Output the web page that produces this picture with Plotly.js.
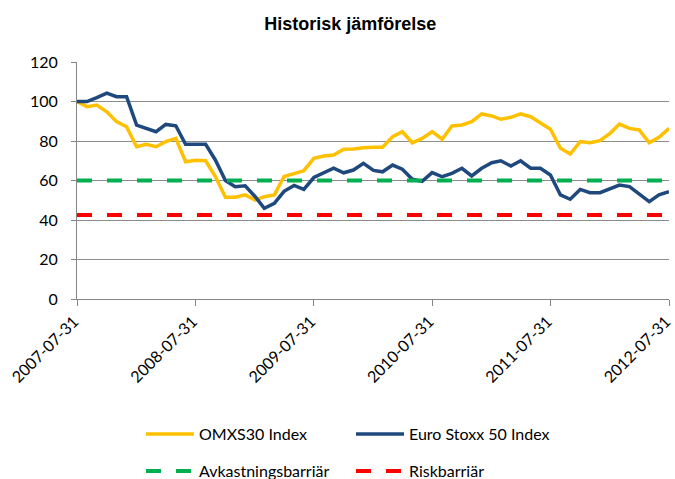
<!DOCTYPE html>
<html>
<head>
<meta charset="utf-8">
<script src="https://cdn.plot.ly/plotly-3.0.1.min.js"></script>
<style>html,body{margin:0;padding:0;background:#fff;}#chart{width:675px;height:479px;}</style>
</head>
<body>
<div id="chart"></div>
<script>
var dates = [
  "2007-07-31","2007-08-31","2007-09-30","2007-10-31","2007-11-30","2007-12-31",
  "2008-01-31","2008-02-29","2008-03-31","2008-04-30","2008-05-31","2008-06-30",
  "2008-07-31","2008-08-31","2008-09-30","2008-10-31","2008-11-30","2008-12-31",
  "2009-01-31","2009-02-28","2009-03-31","2009-04-30","2009-05-31","2009-06-30",
  "2009-07-31","2009-08-31","2009-09-30","2009-10-31","2009-11-30","2009-12-31",
  "2010-01-31","2010-02-28","2010-03-31","2010-04-30","2010-05-31","2010-06-30",
  "2010-07-31","2010-08-31","2010-09-30","2010-10-31","2010-11-30","2010-12-31",
  "2011-01-31","2011-02-28","2011-03-31","2011-04-30","2011-05-31","2011-06-30",
  "2011-07-31","2011-08-31","2011-09-30","2011-10-31","2011-11-30","2011-12-31",
  "2012-01-31","2012-02-29","2012-03-31","2012-04-30","2012-05-31","2012-06-30",
  "2012-07-31"
];
var omxs30 = [
  100, 97.4, 98.2, 94.8, 89.8, 87.2, 77.1, 78.3, 77.1, 79.7, 81.3, 69.5,
  70.2, 70.0, 62.0, 51.5, 51.5, 52.7, 50.1, 51.8, 52.7, 62.0, 63.5, 65.0,
  71.2, 72.4, 72.9, 75.8, 75.9, 76.6, 76.8, 76.8, 82.2, 84.7, 79.1, 81.3,
  84.7, 80.9, 87.6, 88.1, 89.8, 93.7, 92.7, 91.0, 92.0, 93.7, 92.3, 89.0,
  86.0, 76.3, 73.4, 79.7, 79.1, 80.2, 83.9, 88.6, 86.4, 85.6, 79.1, 81.9,
  86.4
];
var eurostoxx = [
  100, 100, 102, 104.2, 102.4, 102.4, 88.0, 86.4, 84.7, 88.4, 87.7, 78.3,
  78.3, 78.3, 70.4, 60.0, 56.9, 57.3, 51.8, 45.9, 48.4, 54.5, 57.5, 55.5,
  61.5, 63.9, 66.2, 63.9, 65.3, 68.7, 65.1, 64.4, 67.8, 65.7, 60.6, 59.6,
  64.0, 61.9, 63.6, 66.2, 62.3, 66.2, 69.0, 70.0, 67.3, 70.0, 66.2, 66.2,
  62.8, 52.7, 50.5, 55.5, 53.8, 53.8, 56.0, 57.7, 56.9, 53.2, 49.3, 52.7,
  54.3
];
var avkastningsbarriar = 60;
var riskbarriar = 42.5;
var seriesNames = ["OMXS30 Index", "Euro Stoxx 50 Index", "Avkastningsbarriär", "Riskbarriär"];
var tickDates = ["2007-07-31","2008-07-31","2009-07-31","2010-07-31","2011-07-31","2012-07-31"];
var titleText = "Historisk jämförelse";

var firstLast = [dates[0], dates[dates.length - 1]];
var traces = [
  {x: dates, y: omxs30, name: seriesNames[0], type: "scatter", mode: "lines",
   line: {color: "#FFC000", width: 3.5}, legend: "legend"},
  {x: dates, y: eurostoxx, name: seriesNames[1], type: "scatter", mode: "lines",
   line: {color: "#1F497D", width: 3.5}, legend: "legend"},
  {x: firstLast, y: [avkastningsbarriar, avkastningsbarriar], name: seriesNames[2], type: "scatter", mode: "lines",
   line: {color: "#00B050", width: 4, dash: "15px,15px"}, legend: "legend2"},
  {x: firstLast, y: [riskbarriar, riskbarriar], name: seriesNames[3], type: "scatter", mode: "lines",
   line: {color: "#FF0000", width: 4, dash: "15px,15px"}, legend: "legend2"}
];

var tickFont = {family: "Lato, 'Open Sans', sans-serif", size: 16, color: "#000"};
var legendCommon = {
  orientation: "h", xref: "container", yref: "container",
  xanchor: "left", yanchor: "middle",
  entrywidth: 147, entrywidthmode: "pixels", itemwidth: 48,
  font: {family: "Lato, 'Open Sans', sans-serif", size: 16, color: "#000"},
  bgcolor: "rgba(0,0,0,0)", borderwidth: 0, traceorder: "normal"
};
var layout = {
  width: 675, height: 479,
  margin: {l: 77, r: 6, t: 62, b: 180, pad: 0},
  paper_bgcolor: "#fff", plot_bgcolor: "#fff",
  showlegend: true,
  title: {text: titleText, x: 0.519, xanchor: "center", xref: "container",
          y: 0.95, yanchor: "middle", yref: "container",
          font: {family: "'Liberation Sans', Arial, sans-serif", size: 18, color: "#000", weight: "bold"}},
  xaxis: {
    type: "date", range: firstLast, tickvals: tickDates, ticktext: tickDates,
    tickangle: -45, showgrid: false, zeroline: false,
    showline: true, linecolor: "#868686", linewidth: 1,
    ticks: "outside", ticklen: 6, tickcolor: "#868686", tickwidth: 1,
    ticklabeloverflow: "allow", ticklabelshift: -3,
    tickfont: tickFont, fixedrange: true
  },
  yaxis: {
    range: [0, 120], dtick: 20, tick0: 0,
    showgrid: true, gridcolor: "#8c8c8c", gridwidth: 1, zeroline: false,
    showline: true, linecolor: "#868686", linewidth: 1,
    ticks: "outside", ticklen: 5, tickcolor: "#868686", tickwidth: 1,
    ticklabelstandoff: 10,
    tickfont: {family: "Lato, 'Open Sans', sans-serif", size: 16, color: "#000"}, fixedrange: true
  },
  legend: Object.assign({}, legendCommon, {x: 141 / 675, y: 1 - 434 / 479}),
  legend2: Object.assign({}, legendCommon, {x: 141 / 675, y: 1 - 471 / 479}),
  hovermode: false
};
Plotly.newPlot("chart", traces, layout, {displayModeBar: false, staticPlot: true});
</script>
</body>
</html>
